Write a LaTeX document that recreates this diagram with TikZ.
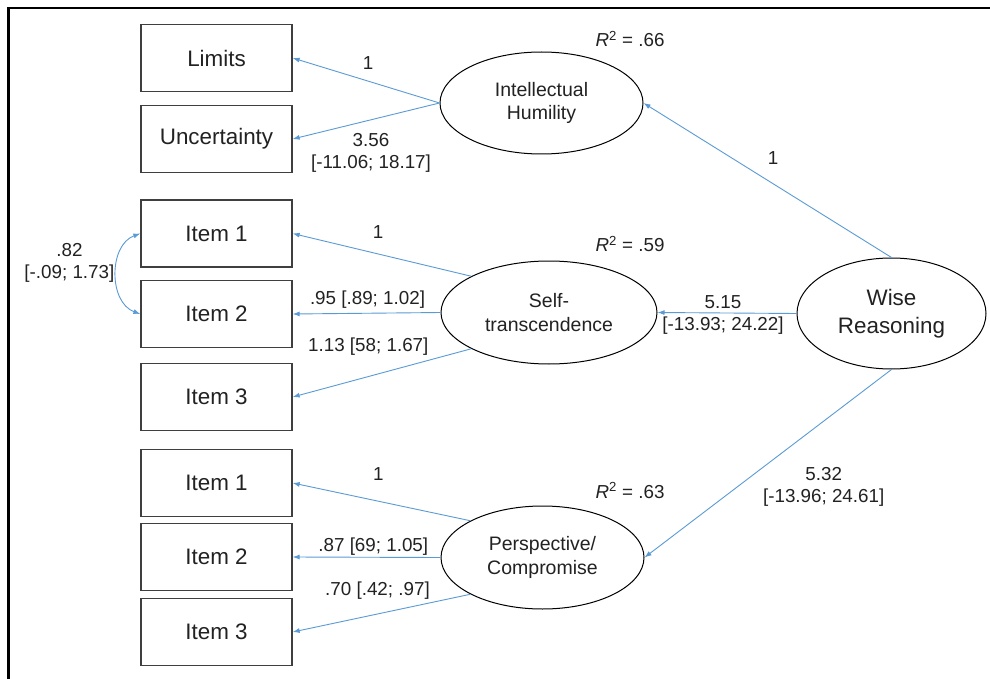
\documentclass[tikz,border=0pt]{standalone}
\usepackage{fontspec}
\setmainfont{Liberation Sans}
\usetikzlibrary{shapes.geometric,arrows.meta}
\definecolor{arrowblue}{HTML}{5B9BD5}
\definecolor{boxgray}{HTML}{3F3F3F}
\definecolor{txt}{HTML}{222222}
\begin{document}
\begin{tikzpicture}[x=1pt,y=1pt,
  obs/.style={draw=boxgray, line width=1.3pt, rectangle, minimum width=151pt, minimum height=67pt, inner sep=0pt, font=\fontsize{22.4}{26}\selectfont, text=txt},
  lat/.style={draw=black, line width=1pt, ellipse, inner sep=0pt, align=center, font=\fontsize{19.5}{23.5}\selectfont, text=txt},
  sempath/.style={draw=arrowblue, line width=0.9pt, -{Latex[length=7pt,width=5pt]}},
  lbl/.style={font=\fontsize{18.8}{22}\selectfont, text=txt, align=center, inner sep=0pt},
]
\useasboundingbox (0,0) rectangle (990,-679);
\fill[white] (0,0) rectangle (990,-679);
% frame
\draw[line width=2.5pt, black] (8.7,-679) -- (8.7,-8) -- (990,-8);

% observed indicators
\node[obs] (lim) at (216.5,-58) {Limits};
\node[obs] (unc) at (216.5,-139) {Uncertainty};
\node[obs] (s1) at (216.5,-233.5) {Item 1};
\node[obs] (s2) at (216.5,-314) {Item 2};
\node[obs] (s3) at (216.5,-397) {Item 3};
\node[obs] (p1) at (216.5,-483) {Item 1};
\node[obs] (p2) at (216.5,-557) {Item 2};
\node[obs] (p3) at (216.5,-632) {Item 3};

% latent variables
\node[lat, minimum width=203pt, minimum height=102pt] (ih) at (541.5,-103) {Intellectual\\Humility};
\node[lat, minimum width=216pt, minimum height=103pt] (st) at (549,-312.5) {Self-\\transcendence};
\node[lat, minimum width=203pt, minimum height=103pt] (pc) at (542.5,-557.5) {Perspective/\\Compromise};
\node[lat, minimum width=189pt, minimum height=111pt, font=\fontsize{22.4}{28}\selectfont] (wr) at (891.5,-313.5) {Wise\\Reasoning};

% loadings
\draw[sempath] (ih.west) -- (lim.east);
\draw[sempath] (ih.west) -- (unc.east);
\draw[sempath] (st.155) -- (s1.east);
\draw[sempath] (st.west) -- (s2.east);
\draw[sempath] (st.205) -- (s3.east);
\draw[sempath] (pc.153) -- (p1.east);
\draw[sempath] (pc.west) -- (p2.east);
\draw[sempath] (pc.207) -- (p3.east);
% structural paths
\draw[sempath] (wr.north) -- (ih.east);
\draw[sempath] (wr.west) -- (st.east);
\draw[sempath] (wr.south) -- (pc.east);
% covariance
\draw[draw=arrowblue, line width=0.9pt, {Latex[length=7pt,width=5pt]}-{Latex[length=7pt,width=5pt]}] (s1.west) to[out=200,in=160,looseness=1.08] (s2.west);

% labels
\node[lbl, anchor=base] (lab1) at (368,-69.3) {1};
\node[lbl] (lab2) at (371,-152.4) {3.56\\{}[-11.06; 18.17]};
\node[lbl, anchor=base] (r1) at (630,-46.7) {\textit{R}\textsuperscript{2} = .66};
\node[lbl, anchor=base] (lab3) at (773,-165) {1};
\node[lbl, anchor=base] (lab4) at (378,-238.3) {1};
\node[lbl, anchor=base] (r2) at (630,-251.7) {\textit{R}\textsuperscript{2} = .59};
\node[lbl, anchor=base] (lab5) at (367.5,-304) {.95 [.89; 1.02]};
\node[lbl, anchor=base] (lab6) at (368.3,-351) {1.13 [58; 1.67]};
\node[lbl] (lab7) at (723,-315) {5.15\\{}[-13.93; 24.22]};
\node[lbl, anchor=base] (lab8) at (378.3,-480) {1};
\node[lbl, anchor=base] (r3) at (630,-498) {\textit{R}\textsuperscript{2} = .63};
\node[lbl, anchor=base] (lab9) at (373.3,-551.7) {.87 [69; 1.05]};
\node[lbl, anchor=base] (lab10) at (377.5,-595.7) {.70 [.42; .97]};
\node[lbl] (lab11) at (823.7,-486.8) {5.32\\{}[-13.96; 24.61]};
\node[lbl] (lab12) at (69.4,-262.5) {.82\\{}[-.09; 1.73]};
\end{tikzpicture}
\end{document}
